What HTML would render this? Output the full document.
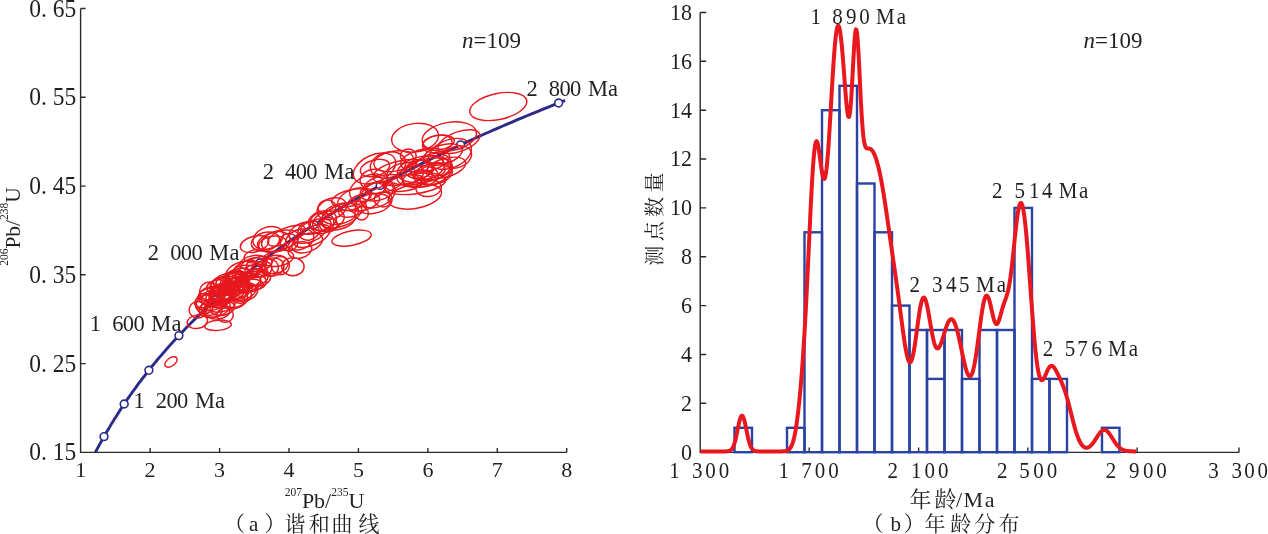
<!DOCTYPE html><html><head><meta charset="utf-8"><title>Figure</title><style>html,body{margin:0;padding:0;background:#fff;}body{width:1268px;height:534px;overflow:hidden;}svg{display:block;}</style></head><body><svg width="1268" height="534" viewBox="0 0 1268 534" font-family='"Liberation Serif", "Noto Serif CJK SC", serif' fill="#231f20"><path d="M95.4,452.4 L96.2,450.8 L97.0,449.2 L97.9,447.6 L98.8,446.0 L99.6,444.5 L100.5,442.9 L101.4,441.3 L102.3,439.7 L103.2,438.1 L104.1,436.5 L105.0,434.8 L105.9,433.2 L106.9,431.6 L107.8,430.0 L108.8,428.4 L109.8,426.8 L110.7,425.1 L111.7,423.5 L112.7,421.9 L113.7,420.3 L114.7,418.6 L115.8,417.0 L116.8,415.4 L117.8,413.7 L118.9,412.1 L120.0,410.4 L121.0,408.8 L122.1,407.1 L123.2,405.5 L124.3,403.8 L125.5,402.2 L126.6,400.5 L127.7,398.8 L128.9,397.2 L130.0,395.5 L131.2,393.8 L132.4,392.1 L133.6,390.5 L134.8,388.8 L136.1,387.1 L137.3,385.4 L138.5,383.7 L139.8,382.0 L141.1,380.4 L142.4,378.7 L143.7,377.0 L145.0,375.3 L146.3,373.6 L147.6,371.9 L149.0,370.1 L150.4,368.4 L151.7,366.7 L153.1,365.0 L154.5,363.3 L155.9,361.6 L157.4,359.8 L158.8,358.1 L160.3,356.4 L161.8,354.7 L163.3,352.9 L164.8,351.2 L166.3,349.4 L167.8,347.7 L169.4,345.9 L170.9,344.2 L172.5,342.4 L174.1,340.7 L175.7,338.9 L177.4,337.2 L179.0,335.4 L180.7,333.7 L182.4,331.9 L184.1,330.1 L185.8,328.3 L187.5,326.6 L189.2,324.8 L191.0,323.0 L192.8,321.2 L194.6,319.4 L196.4,317.6 L198.2,315.9 L200.1,314.1 L202.0,312.3 L203.9,310.5 L205.8,308.7 L207.7,306.8 L209.6,305.0 L211.6,303.2 L213.6,301.4 L215.6,299.6 L217.6,297.8 L219.7,296.0 L221.7,294.1 L223.8,292.3 L225.9,290.5 L228.1,288.6 L230.2,286.8 L232.4,285.0 L234.6,283.1 L236.8,281.3 L239.0,279.4 L241.3,277.6 L243.5,275.7 L245.8,273.9 L248.2,272.0 L250.5,270.1 L252.9,268.3 L255.3,266.4 L257.7,264.5 L260.1,262.6 L262.6,260.8 L265.1,258.9 L267.6,257.0 L270.2,255.1 L272.7,253.2 L275.3,251.3 L277.9,249.4 L280.6,247.5 L283.3,245.6 L285.9,243.7 L288.7,241.8 L291.4,239.9 L294.2,238.0 L297.0,236.1 L299.8,234.2 L302.7,232.2 L305.6,230.3 L308.5,228.4 L311.4,226.5 L314.4,224.5 L317.4,222.6 L320.5,220.7 L323.5,218.7 L326.6,216.8 L329.7,214.8 L332.9,212.9 L336.1,210.9 L339.3,208.9 L342.6,207.0 L345.8,205.0 L349.2,203.1 L352.5,201.1 L355.9,199.1 L359.3,197.1 L362.8,195.2 L366.2,193.2 L369.8,191.2 L373.3,189.2 L376.9,187.2 L380.5,185.2 L384.2,183.2 L387.9,181.2 L391.6,179.2 L395.4,177.2 L399.2,175.2 L403.0,173.2 L406.9,171.2 L410.8,169.1 L414.8,167.1 L418.8,165.1 L422.8,163.1 L426.9,161.0 L431.0,159.0 L435.2,157.0 L439.4,154.9 L443.6,152.9 L447.9,150.8 L452.3,148.8 L456.6,146.7 L461.0,144.7 L465.5,142.6 L470.0,140.5 L474.5,138.5 L479.1,136.4 L483.8,134.3 L488.5,132.2 L493.2,130.2 L498.0,128.1 L502.8,126.0 L507.7,123.9 L512.6,121.8 L517.5,119.7 L522.6,117.6 L527.6,115.5 L532.8,113.4 L537.9,111.3 L543.1,109.2 L548.4,107.1 L553.7,104.9 L559.1,102.8 L564.5,100.7 L565.1,100.5" fill="none" stroke="#2b2a88" stroke-width="2.9" stroke-linecap="butt"/>
<g fill="#fff" stroke="#2b2a88" stroke-width="1.6"><circle cx="104.0" cy="436.6" r="3.9"/><circle cx="124.2" cy="404.0" r="3.9"/><circle cx="148.9" cy="370.3" r="3.9"/><circle cx="178.9" cy="335.6" r="3.9"/><circle cx="215.4" cy="299.8" r="3.9"/><circle cx="259.9" cy="262.8" r="3.9"/><circle cx="314.1" cy="224.7" r="3.9"/><circle cx="380.2" cy="185.4" r="3.9"/><circle cx="460.6" cy="144.9" r="3.9"/><circle cx="558.6" cy="103.0" r="3.9"/></g>
<g fill="none" stroke="#e8181e" stroke-width="1.45"><ellipse cx="197.4" cy="321.7" rx="10.3" ry="6.7" transform="rotate(-10 197.4 321.7)"/><ellipse cx="218.0" cy="325.3" rx="13.4" ry="5.1" transform="rotate(-5 218.0 325.3)"/><ellipse cx="197.8" cy="309.8" rx="8.7" ry="8.2" transform="rotate(0 197.8 309.8)"/><ellipse cx="225.1" cy="315.1" rx="8.2" ry="7.2" transform="rotate(0 225.1 315.1)"/><ellipse cx="204.6" cy="303.5" rx="9.3" ry="10.3" transform="rotate(0 204.6 303.5)"/><ellipse cx="209.4" cy="291.3" rx="9.8" ry="9.3" transform="rotate(0 209.4 291.3)"/><ellipse cx="235.0" cy="301.6" rx="10.0" ry="5.7" transform="rotate(-10 235.0 301.6)"/><ellipse cx="217.4" cy="286.7" rx="10.8" ry="6.7" transform="rotate(-10 217.4 286.7)"/><ellipse cx="265.4" cy="241.6" rx="14.3" ry="9.1" transform="rotate(-15 265.4 241.6)"/><ellipse cx="272.5" cy="244.1" rx="14.0" ry="7.9" transform="rotate(-10 272.5 244.1)"/><ellipse cx="269.3" cy="267.6" rx="9.1" ry="8.5" transform="rotate(0 269.3 267.6)"/><ellipse cx="280.4" cy="265.6" rx="9.1" ry="9.1" transform="rotate(0 280.4 265.6)"/><ellipse cx="278.0" cy="258.3" rx="15.8" ry="7.9" transform="rotate(-10 278.0 258.3)"/><ellipse cx="289.0" cy="242.0" rx="9.0" ry="8.5" transform="rotate(0 289.0 242.0)"/><ellipse cx="254.6" cy="244.1" rx="14.6" ry="7.9" transform="rotate(-15 254.6 244.1)"/><ellipse cx="243.3" cy="271.7" rx="18.0" ry="10.0" transform="rotate(-15 243.3 271.7)"/><ellipse cx="268.1" cy="237.9" rx="15.7" ry="10.7" transform="rotate(-20 268.1 237.9)"/><ellipse cx="276.0" cy="242.0" rx="14.6" ry="10.0" transform="rotate(-15 276.0 242.0)"/><ellipse cx="292.9" cy="266.7" rx="11.2" ry="9.0" transform="rotate(0 292.9 266.7)"/><ellipse cx="274.9" cy="264.4" rx="13.5" ry="9.0" transform="rotate(-10 274.9 264.4)"/><ellipse cx="256.7" cy="256.1" rx="12.7" ry="6.7" transform="rotate(-10 256.7 256.1)"/><ellipse cx="273.0" cy="267.0" rx="11.0" ry="9.0" transform="rotate(-10 273.0 267.0)"/><ellipse cx="239.2" cy="292.3" rx="10.1" ry="6.8" transform="rotate(-14 239.2 292.3)"/><ellipse cx="211.5" cy="306.8" rx="10.7" ry="8.2" transform="rotate(-17 211.5 306.8)"/><ellipse cx="221.7" cy="294.2" rx="10.0" ry="8.4" transform="rotate(-13 221.7 294.2)"/><ellipse cx="222.3" cy="308.2" rx="12.4" ry="7.1" transform="rotate(-10 222.3 308.2)"/><ellipse cx="226.4" cy="292.6" rx="10.0" ry="6.2" transform="rotate(-16 226.4 292.6)"/><ellipse cx="225.5" cy="289.1" rx="13.9" ry="6.4" transform="rotate(-5 225.5 289.1)"/><ellipse cx="239.3" cy="275.3" rx="11.6" ry="6.6" transform="rotate(-18 239.3 275.3)"/><ellipse cx="210.7" cy="299.8" rx="15.0" ry="6.6" transform="rotate(-19 210.7 299.8)"/><ellipse cx="232.8" cy="282.4" rx="10.3" ry="9.2" transform="rotate(-19 232.8 282.4)"/><ellipse cx="209.4" cy="302.6" rx="14.7" ry="8.2" transform="rotate(-4 209.4 302.6)"/><ellipse cx="210.7" cy="309.9" rx="11.5" ry="7.6" transform="rotate(-0 210.7 309.9)"/><ellipse cx="232.7" cy="286.7" rx="13.6" ry="7.7" transform="rotate(-14 232.7 286.7)"/><ellipse cx="236.0" cy="277.0" rx="10.4" ry="7.0" transform="rotate(-4 236.0 277.0)"/><ellipse cx="254.7" cy="278.6" rx="13.5" ry="7.0" transform="rotate(-10 254.7 278.6)"/><ellipse cx="218.0" cy="298.7" rx="12.3" ry="8.9" transform="rotate(-7 218.0 298.7)"/><ellipse cx="257.4" cy="277.6" rx="13.2" ry="8.6" transform="rotate(-3 257.4 277.6)"/><ellipse cx="237.3" cy="289.4" rx="10.8" ry="8.9" transform="rotate(-1 237.3 289.4)"/><ellipse cx="234.4" cy="299.9" rx="13.6" ry="8.6" transform="rotate(-17 234.4 299.9)"/><ellipse cx="247.9" cy="282.4" rx="13.1" ry="8.7" transform="rotate(-7 247.9 282.4)"/><ellipse cx="246.8" cy="269.2" rx="13.4" ry="8.2" transform="rotate(-19 246.8 269.2)"/><ellipse cx="233.5" cy="279.7" rx="13.1" ry="8.1" transform="rotate(-15 233.5 279.7)"/><ellipse cx="224.4" cy="292.8" rx="14.8" ry="8.9" transform="rotate(-12 224.4 292.8)"/><ellipse cx="242.9" cy="291.7" rx="14.8" ry="9.4" transform="rotate(-8 242.9 291.7)"/><ellipse cx="240.7" cy="295.0" rx="10.7" ry="8.2" transform="rotate(-2 240.7 295.0)"/><ellipse cx="227.1" cy="283.1" rx="11.1" ry="7.0" transform="rotate(-1 227.1 283.1)"/><ellipse cx="235.7" cy="282.0" rx="11.6" ry="9.4" transform="rotate(-10 235.7 282.0)"/><ellipse cx="220.6" cy="286.0" rx="10.6" ry="8.2" transform="rotate(-11 220.6 286.0)"/><ellipse cx="221.1" cy="305.8" rx="14.1" ry="6.0" transform="rotate(-9 221.1 305.8)"/><ellipse cx="256.3" cy="271.0" rx="11.3" ry="6.5" transform="rotate(-0 256.3 271.0)"/><ellipse cx="221.1" cy="294.5" rx="12.4" ry="8.3" transform="rotate(-8 221.1 294.5)"/><ellipse cx="253.5" cy="262.7" rx="13.8" ry="7.1" transform="rotate(-9 253.5 262.7)"/><ellipse cx="238.2" cy="285.2" rx="11.8" ry="8.6" transform="rotate(-8 238.2 285.2)"/><ellipse cx="230.8" cy="292.4" rx="13.5" ry="8.2" transform="rotate(-10 230.8 292.4)"/><ellipse cx="239.5" cy="287.3" rx="11.7" ry="6.5" transform="rotate(-8 239.5 287.3)"/><ellipse cx="216.6" cy="308.3" rx="14.0" ry="8.3" transform="rotate(-19 216.6 308.3)"/><ellipse cx="215.8" cy="297.0" rx="14.8" ry="8.5" transform="rotate(-17 215.8 297.0)"/><ellipse cx="210.8" cy="294.7" rx="12.1" ry="6.6" transform="rotate(-8 210.8 294.7)"/><ellipse cx="222.6" cy="294.0" rx="12.4" ry="9.3" transform="rotate(-13 222.6 294.0)"/><ellipse cx="210.9" cy="296.0" rx="12.5" ry="9.2" transform="rotate(-9 210.9 296.0)"/><ellipse cx="244.7" cy="272.1" rx="12.8" ry="6.9" transform="rotate(-5 244.7 272.1)"/><ellipse cx="253.0" cy="266.7" rx="13.6" ry="8.3" transform="rotate(-18 253.0 266.7)"/><ellipse cx="217.2" cy="312.0" rx="12.4" ry="7.1" transform="rotate(-4 217.2 312.0)"/><ellipse cx="259.1" cy="264.1" rx="13.1" ry="7.2" transform="rotate(-15 259.1 264.1)"/><ellipse cx="224.0" cy="294.9" rx="11.7" ry="7.4" transform="rotate(-17 224.0 294.9)"/><ellipse cx="242.7" cy="292.3" rx="13.7" ry="7.4" transform="rotate(-18 242.7 292.3)"/><ellipse cx="230.9" cy="285.3" rx="10.5" ry="6.5" transform="rotate(-17 230.9 285.3)"/><ellipse cx="227.0" cy="280.1" rx="14.4" ry="6.5" transform="rotate(-15 227.0 280.1)"/><ellipse cx="248.5" cy="285.7" rx="14.7" ry="6.4" transform="rotate(-7 248.5 285.7)"/><ellipse cx="221.0" cy="298.8" rx="13.6" ry="6.6" transform="rotate(-16 221.0 298.8)"/><ellipse cx="222.5" cy="285.4" rx="11.4" ry="8.6" transform="rotate(-6 222.5 285.4)"/><ellipse cx="246.5" cy="283.0" rx="14.9" ry="6.0" transform="rotate(-19 246.5 283.0)"/><ellipse cx="256.1" cy="281.7" rx="10.2" ry="7.9" transform="rotate(-0 256.1 281.7)"/><ellipse cx="237.4" cy="277.8" rx="10.5" ry="6.2" transform="rotate(-2 237.4 277.8)"/><ellipse cx="236.6" cy="281.2" rx="12.7" ry="6.3" transform="rotate(-14 236.6 281.2)"/><ellipse cx="261.7" cy="268.9" rx="10.1" ry="7.9" transform="rotate(-10 261.7 268.9)"/><ellipse cx="351.6" cy="238.1" rx="20.0" ry="7.2" transform="rotate(-11 351.6 238.1)"/><ellipse cx="307.2" cy="242.9" rx="16.0" ry="9.0" transform="rotate(-20 307.2 242.9)"/><ellipse cx="308.4" cy="231.1" rx="10.5" ry="9.0" transform="rotate(-10 308.4 231.1)"/><ellipse cx="315.8" cy="226.5" rx="15.7" ry="6.7" transform="rotate(-15 315.8 226.5)"/><ellipse cx="322.0" cy="223.0" rx="12.0" ry="10.5" transform="rotate(-10 322.0 223.0)"/><ellipse cx="327.0" cy="207.6" rx="9.0" ry="7.5" transform="rotate(-10 327.0 207.6)"/><ellipse cx="328.4" cy="224.7" rx="9.0" ry="7.1" transform="rotate(0 328.4 224.7)"/><ellipse cx="328.4" cy="220.6" rx="16.5" ry="9.7" transform="rotate(-20 328.4 220.6)"/><ellipse cx="341.2" cy="215.5" rx="21.7" ry="10.5" transform="rotate(-22 341.2 215.5)"/><ellipse cx="353.6" cy="199.2" rx="17.2" ry="9.7" transform="rotate(-25 353.6 199.2)"/><ellipse cx="368.4" cy="187.8" rx="20.0" ry="12.0" transform="rotate(-25 368.4 187.8)"/><ellipse cx="377.7" cy="194.5" rx="18.7" ry="12.0" transform="rotate(-25 377.7 194.5)"/><ellipse cx="375.0" cy="168.0" rx="15.0" ry="8.0" transform="rotate(-15 375.0 168.0)"/><ellipse cx="300.0" cy="250.0" rx="12.0" ry="8.0" transform="rotate(-15 300.0 250.0)"/><ellipse cx="383.2" cy="199.4" rx="9.0" ry="7.5" transform="rotate(0 383.2 199.4)"/><ellipse cx="373.0" cy="203.7" rx="18.0" ry="9.7" transform="rotate(-10 373.0 203.7)"/><ellipse cx="361.7" cy="213.2" rx="6.7" ry="6.7" transform="rotate(0 361.7 213.2)"/><ellipse cx="286.4" cy="235.7" rx="20.0" ry="7.6" transform="rotate(-23 286.4 235.7)"/><ellipse cx="299.7" cy="239.5" rx="14.6" ry="9.9" transform="rotate(-20 299.7 239.5)"/><ellipse cx="312.0" cy="235.9" rx="19.5" ry="9.1" transform="rotate(-24 312.0 235.9)"/><ellipse cx="322.4" cy="220.6" rx="14.3" ry="9.5" transform="rotate(-16 322.4 220.6)"/><ellipse cx="339.1" cy="220.0" rx="17.0" ry="9.1" transform="rotate(-16 339.1 220.0)"/><ellipse cx="340.5" cy="213.7" rx="18.5" ry="9.9" transform="rotate(-15 340.5 213.7)"/><ellipse cx="352.5" cy="209.2" rx="14.3" ry="7.1" transform="rotate(-17 352.5 209.2)"/><ellipse cx="363.4" cy="202.1" rx="16.6" ry="8.2" transform="rotate(-15 363.4 202.1)"/><ellipse cx="278.3" cy="240.7" rx="21.3" ry="9.7" transform="rotate(-14 278.3 240.7)"/><ellipse cx="307.2" cy="232.2" rx="18.6" ry="10.3" transform="rotate(-14 307.2 232.2)"/><ellipse cx="331.8" cy="208.6" rx="15.2" ry="10.2" transform="rotate(-20 331.8 208.6)"/><ellipse cx="351.6" cy="197.9" rx="20.3" ry="8.1" transform="rotate(-12 351.6 197.9)"/><ellipse cx="383.4" cy="183.9" rx="19.9" ry="8.4" transform="rotate(-14 383.4 183.9)"/><ellipse cx="415.1" cy="137.7" rx="23.6" ry="14.2" transform="rotate(-8 415.1 137.7)"/><ellipse cx="449.3" cy="136.6" rx="27.5" ry="14.2" transform="rotate(-10 449.3 136.6)"/><ellipse cx="438.7" cy="142.6" rx="15.7" ry="7.3" transform="rotate(-8 438.7 142.6)"/><ellipse cx="449.9" cy="153.9" rx="22.5" ry="14.0" transform="rotate(-22 449.9 153.9)"/><ellipse cx="425.2" cy="160.2" rx="24.7" ry="11.2" transform="rotate(-10 425.2 160.2)"/><ellipse cx="402.7" cy="172.5" rx="30.0" ry="12.0" transform="rotate(-10 402.7 172.5)"/><ellipse cx="424.0" cy="169.2" rx="27.0" ry="13.0" transform="rotate(-10 424.0 169.2)"/><ellipse cx="408.3" cy="155.7" rx="7.9" ry="6.7" transform="rotate(0 408.3 155.7)"/><ellipse cx="414.9" cy="196.4" rx="27.0" ry="12.0" transform="rotate(-10 414.9 196.4)"/><ellipse cx="373.5" cy="179.3" rx="13.5" ry="10.0" transform="rotate(-10 373.5 179.3)"/><ellipse cx="376.9" cy="191.6" rx="16.9" ry="9.0" transform="rotate(-10 376.9 191.6)"/><ellipse cx="433.0" cy="166.9" rx="19.0" ry="13.0" transform="rotate(-15 433.0 166.9)"/><ellipse cx="415.0" cy="183.8" rx="31.0" ry="10.0" transform="rotate(-8 415.0 183.8)"/><ellipse cx="436.4" cy="169.2" rx="9.0" ry="6.7" transform="rotate(0 436.4 169.2)"/><ellipse cx="393.7" cy="161.3" rx="20.0" ry="10.0" transform="rotate(-10 393.7 161.3)"/><ellipse cx="419.6" cy="169.2" rx="14.6" ry="9.0" transform="rotate(-10 419.6 169.2)"/><ellipse cx="459.0" cy="141.6" rx="22.0" ry="9.8" transform="rotate(-20 459.0 141.6)"/><ellipse cx="457.0" cy="157.0" rx="15.0" ry="10.5" transform="rotate(-20 457.0 157.0)"/><ellipse cx="437.3" cy="143.9" rx="15.0" ry="8.5" transform="rotate(-10 437.3 143.9)"/><ellipse cx="433.0" cy="174.0" rx="19.5" ry="10.5" transform="rotate(-10 433.0 174.0)"/><ellipse cx="428.6" cy="188.0" rx="12.7" ry="8.5" transform="rotate(-5 428.6 188.0)"/><ellipse cx="374.5" cy="168.5" rx="22.5" ry="13.5" transform="rotate(-25 374.5 168.5)"/><ellipse cx="427.2" cy="172.4" rx="26.0" ry="13.5" transform="rotate(-15 427.2 172.4)"/><ellipse cx="388.0" cy="165.0" rx="18.0" ry="12.7" transform="rotate(-15 388.0 165.0)"/><ellipse cx="417.5" cy="178.1" rx="15.1" ry="7.4" transform="rotate(-15 417.5 178.1)"/><ellipse cx="443.0" cy="154.5" rx="19.9" ry="9.6" transform="rotate(-16 443.0 154.5)"/><ellipse cx="427.5" cy="167.7" rx="17.3" ry="11.0" transform="rotate(-17 427.5 167.7)"/><ellipse cx="405.2" cy="173.7" rx="18.4" ry="10.8" transform="rotate(-7 405.2 173.7)"/><ellipse cx="405.3" cy="183.1" rx="19.8" ry="7.8" transform="rotate(-10 405.3 183.1)"/><ellipse cx="417.7" cy="176.5" rx="20.7" ry="10.8" transform="rotate(-5 417.7 176.5)"/><ellipse cx="433.7" cy="172.0" rx="19.4" ry="7.4" transform="rotate(-15 433.7 172.0)"/><ellipse cx="446.0" cy="167.6" rx="20.3" ry="9.2" transform="rotate(-16 446.0 167.6)"/><ellipse cx="498.3" cy="106.5" rx="29.0" ry="13.0" transform="rotate(-12 498.3 106.5)"/><ellipse cx="171.0" cy="362.0" rx="7.0" ry="4.0" transform="rotate(-35 171.0 362.0)"/></g>
<path d="M80.6,8.5 V452.4 H566.7 M80.6,8.5 h5 M80.6,97.3 h5 M80.6,186.1 h5 M80.6,274.8 h5 M80.6,363.6 h5 M150.1,452.4 v-4.5 M219.6,452.4 v-4.5 M289.0,452.4 v-4.5 M358.4,452.4 v-4.5 M427.9,452.4 v-4.5 M497.3,452.4 v-4.5 M566.7,452.4 v-4.5" fill="none" stroke="#2b2b2b" stroke-width="1.4"/>
<text transform="translate(76.3 16.5) scale(1 1.056)" x="0" y="0" font-size="23.5" text-anchor="end" xml:space="preserve">0. 65</text>
<text transform="translate(76.3 105.3) scale(1 1.056)" x="0" y="0" font-size="23.5" text-anchor="end" xml:space="preserve">0. 55</text>
<text transform="translate(76.3 194.1) scale(1 1.056)" x="0" y="0" font-size="23.5" text-anchor="end" xml:space="preserve">0. 45</text>
<text transform="translate(76.3 282.8) scale(1 1.056)" x="0" y="0" font-size="23.5" text-anchor="end" xml:space="preserve">0. 35</text>
<text transform="translate(76.3 371.6) scale(1 1.056)" x="0" y="0" font-size="23.5" text-anchor="end" xml:space="preserve">0. 25</text>
<text transform="translate(76.3 460.4) scale(1 1.056)" x="0" y="0" font-size="23.5" text-anchor="end" xml:space="preserve">0. 15</text>
<text x="80.7" y="477.3" font-size="22" text-anchor="middle">1</text>
<text x="150.1" y="477.3" font-size="22" text-anchor="middle">2</text>
<text x="219.6" y="477.3" font-size="22" text-anchor="middle">3</text>
<text x="289.0" y="477.3" font-size="22" text-anchor="middle">4</text>
<text x="358.4" y="477.3" font-size="22" text-anchor="middle">5</text>
<text x="427.9" y="477.3" font-size="22" text-anchor="middle">6</text>
<text x="497.3" y="477.3" font-size="22" text-anchor="middle">7</text>
<text x="566.7" y="477.3" font-size="22" text-anchor="middle">8</text>
<text x="324.5" y="507.8" font-size="22" text-anchor="middle"><tspan font-size="11.5" dy="-11.5">207</tspan><tspan dy="11.5">Pb/</tspan><tspan font-size="11.5" dy="-11.5">235</tspan><tspan dy="11.5">U</tspan></text>
<text transform="translate(19.8 226.5) rotate(-90)" font-size="21.5" text-anchor="middle"><tspan font-size="11.5" dy="-11.5">206</tspan><tspan dy="11.5">Pb/</tspan><tspan font-size="11.5" dy="-11.5">238</tspan><tspan dy="11.5">U</tspan></text>
<text x="224.0 249.1 264.5 284.4 308.7 331.4 358.4" y="531.3" font-size="21" font-family='"Liberation Serif", "Noto Serif CJK SC", serif'>（a）谐和曲线</text>
<text x="462" y="48.4" font-size="23"><tspan font-style="italic">n</tspan>=109</text>
<text x="526.4 537.7 548.8 559.4 570.0 581.3 587.9 608.1" y="95.6" font-size="22.5" xml:space="preserve">2 800 Ma</text>
<text x="262.7 274.0 285.1 295.7 306.3 317.6 324.2 344.4" y="178.7" font-size="22.5" xml:space="preserve">2 400 Ma</text>
<text x="147.8 159.1 170.2 180.8 191.4 202.7 209.3 229.5" y="259.6" font-size="22.5" xml:space="preserve">2 000 Ma</text>
<text x="89.8 101.1 112.2 122.8 133.4 144.7 151.3 171.5" y="331.3" font-size="22.5" xml:space="preserve">1 600 Ma</text>
<text x="133.4 144.7 155.8 166.4 177.0 188.3 194.9 215.1" y="407.9" font-size="22.5" xml:space="preserve">1 200 Ma</text>
<path d="M700.2,12.5 V452.4 H1239 M700.2,403.3 h6 M700.2,354.5 h6 M700.2,305.6 h6 M700.2,256.8 h6 M700.2,207.9 h6 M700.2,159.0 h6 M700.2,110.2 h6 M700.2,61.3 h6 M700.2,12.5 h6 M809.2,452.4 v-5 M918.6,452.4 v-5 M1027.8,452.4 v-5 M1137.1,452.4 v-5 M1239.0,452.4 v-5" fill="none" stroke="#2b2b2b" stroke-width="1.4"/>
<g fill="none" stroke="#2a42a2" stroke-width="2.4"><rect x="734.5" y="427.8" width="17.5" height="24.4"/><rect x="787.0" y="427.8" width="17.5" height="24.4"/><rect x="804.5" y="232.3" width="17.5" height="219.9"/><rect x="822.0" y="110.2" width="17.5" height="342.0"/><rect x="839.5" y="85.8" width="17.5" height="366.4"/><rect x="857.0" y="183.5" width="17.5" height="268.7"/><rect x="874.5" y="232.3" width="17.5" height="219.9"/><rect x="892.0" y="305.6" width="17.5" height="146.6"/><rect x="909.5" y="330.0" width="17.5" height="122.2"/><rect x="927.0" y="330.0" width="17.5" height="122.2"/><rect x="944.5" y="330.0" width="17.5" height="122.2"/><rect x="962.0" y="378.9" width="17.5" height="73.3"/><rect x="979.5" y="330.0" width="17.5" height="122.2"/><rect x="997.0" y="330.0" width="17.5" height="122.2"/><rect x="1014.5" y="207.9" width="17.5" height="244.3"/><rect x="1032.0" y="378.9" width="17.5" height="73.3"/><rect x="1049.5" y="378.9" width="17.5" height="73.3"/><rect x="1102.0" y="427.8" width="17.5" height="24.4"/><path d="M927.0,378.9 h17.5"/></g>
<path d="M700.5,451.4 L701.0,451.4 L701.5,451.4 L702.0,451.4 L702.5,451.4 L703.0,451.4 L703.5,451.4 L704.0,451.4 L704.5,451.4 L705.0,451.4 L705.5,451.4 L706.0,451.4 L706.5,451.4 L707.0,451.4 L707.5,451.4 L708.0,451.4 L708.5,451.4 L709.0,451.4 L709.5,451.4 L710.0,451.4 L710.5,451.4 L711.0,451.4 L711.5,451.4 L712.0,451.4 L712.5,451.4 L713.0,451.4 L713.5,451.4 L714.0,451.4 L714.5,451.4 L715.0,451.4 L715.5,451.4 L716.0,451.4 L716.5,451.4 L717.0,451.4 L717.5,451.4 L718.0,451.4 L718.5,451.4 L719.0,451.4 L719.5,451.4 L720.0,451.4 L720.5,451.4 L721.0,451.4 L721.5,451.4 L722.0,451.4 L722.5,451.4 L723.0,451.4 L723.5,451.4 L724.0,451.4 L724.5,451.4 L725.0,451.4 L725.5,451.4 L726.0,451.4 L726.5,451.3 L727.0,451.3 L727.5,451.3 L728.0,451.2 L728.5,451.1 L729.0,451.0 L729.5,450.8 L730.0,450.6 L730.5,450.3 L731.0,449.9 L731.5,449.4 L732.0,448.8 L732.5,448.0 L733.0,447.1 L733.5,446.0 L734.0,444.7 L734.5,443.2 L735.0,441.5 L735.5,439.6 L736.0,437.5 L736.5,435.2 L737.0,432.8 L737.5,430.3 L738.0,427.9 L738.5,425.4 L739.0,423.1 L739.5,421.0 L740.0,419.2 L740.5,417.7 L741.0,416.5 L741.5,415.9 L742.0,415.6 L742.5,415.9 L743.0,416.5 L743.5,417.7 L744.0,419.2 L744.5,421.0 L745.0,423.1 L745.5,425.4 L746.0,427.9 L746.5,430.3 L747.0,432.8 L747.5,435.2 L748.0,437.5 L748.5,439.6 L749.0,441.5 L749.5,443.2 L750.0,444.7 L750.5,446.0 L751.0,447.1 L751.5,448.0 L752.0,448.8 L752.5,449.4 L753.0,449.9 L753.5,450.3 L754.0,450.6 L754.5,450.8 L755.0,451.0 L755.5,451.1 L756.0,451.2 L756.5,451.3 L757.0,451.3 L757.5,451.3 L758.0,451.4 L758.5,451.4 L759.0,451.4 L759.5,451.4 L760.0,451.4 L760.5,451.4 L761.0,451.4 L761.5,451.4 L762.0,451.4 L762.5,451.4 L763.0,451.4 L763.5,451.4 L764.0,451.4 L764.5,451.4 L765.0,451.4 L765.5,451.4 L766.0,451.4 L766.5,451.4 L767.0,451.4 L767.5,451.4 L768.0,451.4 L768.5,451.4 L769.0,451.4 L769.5,451.4 L770.0,451.4 L770.5,451.4 L771.0,451.4 L771.5,451.4 L772.0,451.4 L772.5,451.4 L773.0,451.4 L773.5,451.4 L774.0,451.4 L774.5,451.4 L775.0,451.4 L775.5,451.4 L776.0,451.4 L776.5,451.4 L777.0,451.4 L777.5,451.4 L778.0,451.4 L778.5,451.4 L779.0,451.4 L779.5,451.4 L780.0,451.4 L780.5,451.4 L781.0,451.4 L781.5,451.4 L782.0,451.4 L782.5,451.3 L783.0,451.3 L783.5,451.3 L784.0,451.3 L784.5,451.2 L785.0,451.2 L785.5,451.1 L786.0,451.0 L786.5,450.8 L787.0,450.7 L787.5,450.5 L788.0,450.2 L788.5,449.9 L789.0,449.5 L789.5,449.0 L790.0,448.4 L790.5,447.7 L791.0,446.8 L791.5,445.9 L792.0,444.7 L792.5,443.4 L793.0,441.9 L793.5,440.1 L794.0,438.2 L794.5,435.9 L795.0,433.5 L795.5,430.8 L796.0,427.8 L796.5,424.5 L797.0,421.0 L797.5,417.2 L798.0,413.1 L798.5,408.8 L799.0,404.1 L799.5,399.2 L800.0,394.0 L800.5,388.5 L801.0,382.7 L801.5,376.6 L802.0,370.2 L802.5,363.4 L803.0,356.3 L803.5,348.9 L804.0,341.0 L804.5,332.8 L805.0,324.2 L805.5,315.2 L806.0,305.8 L806.5,296.1 L807.0,286.0 L807.5,275.6 L808.0,265.0 L808.5,254.3 L809.0,243.5 L809.5,232.7 L810.0,222.0 L810.5,211.5 L811.0,201.4 L811.5,191.8 L812.0,182.8 L812.5,174.4 L813.0,166.9 L813.5,160.2 L814.0,154.4 L814.5,149.7 L815.0,146.0 L815.5,143.4 L816.0,141.8 L816.5,141.2 L817.0,141.6 L817.5,142.8 L818.0,144.8 L818.5,147.4 L819.0,150.6 L819.5,154.1 L820.0,157.9 L820.5,161.7 L821.0,165.5 L821.5,169.0 L822.0,172.2 L822.5,174.9 L823.0,177.0 L823.5,178.4 L824.0,179.0 L824.5,178.8 L825.0,177.7 L825.5,175.7 L826.0,172.8 L826.5,169.0 L827.0,164.3 L827.5,158.8 L828.0,152.6 L828.5,145.7 L829.0,138.2 L829.5,130.3 L830.0,122.0 L830.5,113.5 L831.0,104.8 L831.5,96.2 L832.0,87.6 L832.5,79.2 L833.0,71.2 L833.5,63.5 L834.0,56.4 L834.5,49.9 L835.0,44.0 L835.5,38.9 L836.0,34.5 L836.5,31.0 L837.0,28.4 L837.5,26.6 L838.0,25.7 L838.5,25.7 L839.0,26.6 L839.5,28.3 L840.0,30.8 L840.5,34.1 L841.0,38.0 L841.5,42.7 L842.0,47.9 L842.5,53.6 L843.0,59.7 L843.5,66.1 L844.0,72.7 L844.5,79.4 L845.0,86.0 L845.5,92.4 L846.0,98.5 L846.5,104.0 L847.0,108.8 L847.5,112.7 L848.0,115.4 L848.5,116.9 L849.0,117.0 L849.5,115.5 L850.0,112.4 L850.5,107.8 L851.0,101.6 L851.5,94.1 L852.0,85.5 L852.5,76.2 L853.0,66.6 L853.5,57.3 L854.0,48.6 L854.5,41.0 L855.0,35.1 L855.5,31.1 L856.0,29.4 L856.5,30.0 L857.0,32.8 L857.5,37.9 L858.0,44.8 L858.5,53.2 L859.0,62.7 L859.5,72.9 L860.0,83.4 L860.5,93.6 L861.0,103.3 L861.5,112.2 L862.0,120.1 L862.5,126.9 L863.0,132.6 L863.5,137.2 L864.0,140.9 L864.5,143.6 L865.0,145.5 L865.5,146.9 L866.0,147.7 L866.5,148.2 L867.0,148.5 L867.5,148.6 L868.0,148.6 L868.5,148.6 L869.0,148.6 L869.5,148.6 L870.0,148.8 L870.5,149.0 L871.0,149.3 L871.5,149.7 L872.0,150.3 L872.5,151.0 L873.0,151.7 L873.5,152.6 L874.0,153.6 L874.5,154.7 L875.0,155.9 L875.5,157.2 L876.0,158.6 L876.5,160.2 L877.0,161.8 L877.5,163.6 L878.0,165.5 L878.5,167.4 L879.0,169.5 L879.5,171.7 L880.0,174.1 L880.5,176.5 L881.0,179.0 L881.5,181.7 L882.0,184.4 L882.5,187.3 L883.0,190.2 L883.5,193.2 L884.0,196.4 L884.5,199.6 L885.0,202.8 L885.5,206.1 L886.0,209.5 L886.5,212.9 L887.0,216.4 L887.5,219.8 L888.0,223.3 L888.5,226.8 L889.0,230.3 L889.5,233.9 L890.0,237.4 L890.5,240.9 L891.0,244.4 L891.5,247.8 L892.0,251.3 L892.5,254.8 L893.0,258.2 L893.5,261.7 L894.0,265.2 L894.5,268.6 L895.0,272.1 L895.5,275.6 L896.0,279.1 L896.5,282.7 L897.0,286.3 L897.5,289.9 L898.0,293.6 L898.5,297.3 L899.0,301.0 L899.5,304.8 L900.0,308.5 L900.5,312.4 L901.0,316.2 L901.5,320.0 L902.0,323.8 L902.5,327.5 L903.0,331.2 L903.5,334.8 L904.0,338.3 L904.5,341.7 L905.0,344.9 L905.5,347.9 L906.0,350.7 L906.5,353.2 L907.0,355.5 L907.5,357.5 L908.0,359.2 L908.5,360.5 L909.0,361.5 L909.5,362.1 L910.0,362.3 L910.5,362.1 L911.0,361.5 L911.5,360.5 L912.0,359.1 L912.5,357.4 L913.0,355.3 L913.5,352.9 L914.0,350.2 L914.5,347.2 L915.0,343.9 L915.5,340.5 L916.0,336.9 L916.5,333.3 L917.0,329.5 L917.5,325.8 L918.0,322.1 L918.5,318.6 L919.0,315.1 L919.5,311.9 L920.0,308.9 L920.5,306.2 L921.0,303.8 L921.5,301.8 L922.0,300.1 L922.5,298.9 L923.0,298.0 L923.5,297.6 L924.0,297.5 L924.5,297.9 L925.0,298.6 L925.5,299.8 L926.0,301.3 L926.5,303.1 L927.0,305.2 L927.5,307.5 L928.0,310.1 L928.5,312.8 L929.0,315.6 L929.5,318.6 L930.0,321.5 L930.5,324.5 L931.0,327.4 L931.5,330.3 L932.0,333.0 L932.5,335.5 L933.0,337.9 L933.5,340.1 L934.0,342.1 L934.5,343.8 L935.0,345.2 L935.5,346.4 L936.0,347.3 L936.5,348.0 L937.0,348.4 L937.5,348.5 L938.0,348.4 L938.5,348.1 L939.0,347.5 L939.5,346.7 L940.0,345.8 L940.5,344.7 L941.0,343.4 L941.5,342.0 L942.0,340.6 L942.5,339.0 L943.0,337.4 L943.5,335.8 L944.0,334.1 L944.5,332.5 L945.0,330.9 L945.5,329.3 L946.0,327.8 L946.5,326.4 L947.0,325.1 L947.5,323.8 L948.0,322.7 L948.5,321.8 L949.0,320.9 L949.5,320.3 L950.0,319.8 L950.5,319.4 L951.0,319.2 L951.5,319.2 L952.0,319.3 L952.5,319.7 L953.0,320.2 L953.5,320.8 L954.0,321.7 L954.5,322.7 L955.0,323.8 L955.5,325.2 L956.0,326.6 L956.5,328.2 L957.0,330.0 L957.5,331.8 L958.0,333.8 L958.5,335.9 L959.0,338.0 L959.5,340.3 L960.0,342.6 L960.5,344.9 L961.0,347.3 L961.5,349.7 L962.0,352.1 L962.5,354.5 L963.0,356.8 L963.5,359.1 L964.0,361.3 L964.5,363.5 L965.0,365.5 L965.5,367.4 L966.0,369.2 L966.5,370.8 L967.0,372.2 L967.5,373.5 L968.0,374.5 L968.5,375.3 L969.0,375.9 L969.5,376.2 L970.0,376.3 L970.5,376.1 L971.0,375.6 L971.5,374.8 L972.0,373.8 L972.5,372.4 L973.0,370.8 L973.5,368.8 L974.0,366.6 L974.5,364.2 L975.0,361.4 L975.5,358.5 L976.0,355.3 L976.5,352.0 L977.0,348.5 L977.5,344.8 L978.0,341.1 L978.5,337.2 L979.0,333.4 L979.5,329.5 L980.0,325.7 L980.5,322.0 L981.0,318.3 L981.5,314.9 L982.0,311.6 L982.5,308.6 L983.0,305.8 L983.5,303.3 L984.0,301.1 L984.5,299.2 L985.0,297.8 L985.5,296.7 L986.0,295.9 L986.5,295.6 L987.0,295.7 L987.5,296.1 L988.0,296.8 L988.5,297.9 L989.0,299.3 L989.5,301.0 L990.0,302.9 L990.5,305.0 L991.0,307.1 L991.5,309.4 L992.0,311.7 L992.5,313.9 L993.0,316.0 L993.5,318.0 L994.0,319.8 L994.5,321.3 L995.0,322.5 L995.5,323.4 L996.0,323.9 L996.5,324.1 L997.0,324.0 L997.5,323.5 L998.0,322.7 L998.5,321.6 L999.0,320.3 L999.5,318.7 L1000.0,317.0 L1000.5,315.3 L1001.0,313.4 L1001.5,311.6 L1002.0,309.8 L1002.5,308.1 L1003.0,306.4 L1003.5,304.8 L1004.0,303.3 L1004.5,301.9 L1005.0,300.5 L1005.5,299.2 L1006.0,297.8 L1006.5,296.3 L1007.0,294.7 L1007.5,293.0 L1008.0,291.0 L1008.5,288.8 L1009.0,286.3 L1009.5,283.5 L1010.0,280.4 L1010.5,277.0 L1011.0,273.3 L1011.5,269.2 L1012.0,265.0 L1012.5,260.5 L1013.0,255.8 L1013.5,251.0 L1014.0,246.1 L1014.5,241.2 L1015.0,236.4 L1015.5,231.7 L1016.0,227.2 L1016.5,222.9 L1017.0,219.0 L1017.5,215.3 L1018.0,212.1 L1018.5,209.3 L1019.0,206.9 L1019.5,205.1 L1020.0,203.8 L1020.5,203.1 L1021.0,202.9 L1021.5,203.3 L1022.0,204.3 L1022.5,205.8 L1023.0,207.9 L1023.5,210.6 L1024.0,213.8 L1024.5,217.5 L1025.0,221.7 L1025.5,226.3 L1026.0,231.3 L1026.5,236.8 L1027.0,242.5 L1027.5,248.6 L1028.0,254.9 L1028.5,261.5 L1029.0,268.2 L1029.5,275.0 L1030.0,282.0 L1030.5,288.9 L1031.0,295.8 L1031.5,302.7 L1032.0,309.4 L1032.5,316.0 L1033.0,322.5 L1033.5,328.7 L1034.0,334.6 L1034.5,340.3 L1035.0,345.6 L1035.5,350.6 L1036.0,355.2 L1036.5,359.5 L1037.0,363.3 L1037.5,366.8 L1038.0,369.8 L1038.5,372.5 L1039.0,374.7 L1039.5,376.5 L1040.0,377.9 L1040.5,379.0 L1041.0,379.7 L1041.5,380.1 L1042.0,380.2 L1042.5,380.0 L1043.0,379.6 L1043.5,378.9 L1044.0,378.1 L1044.5,377.1 L1045.0,376.1 L1045.5,374.9 L1046.0,373.8 L1046.5,372.6 L1047.0,371.5 L1047.5,370.4 L1048.0,369.4 L1048.5,368.5 L1049.0,367.7 L1049.5,367.0 L1050.0,366.5 L1050.5,366.1 L1051.0,365.9 L1051.5,365.9 L1052.0,365.9 L1052.5,366.1 L1053.0,366.5 L1053.5,366.9 L1054.0,367.5 L1054.5,368.2 L1055.0,368.9 L1055.5,369.8 L1056.0,370.6 L1056.5,371.6 L1057.0,372.5 L1057.5,373.5 L1058.0,374.6 L1058.5,375.6 L1059.0,376.7 L1059.5,377.7 L1060.0,378.8 L1060.5,379.9 L1061.0,381.0 L1061.5,382.2 L1062.0,383.3 L1062.5,384.6 L1063.0,385.8 L1063.5,387.1 L1064.0,388.4 L1064.5,389.8 L1065.0,391.3 L1065.5,392.8 L1066.0,394.4 L1066.5,396.0 L1067.0,397.8 L1067.5,399.5 L1068.0,401.3 L1068.5,403.2 L1069.0,405.1 L1069.5,407.1 L1070.0,409.0 L1070.5,411.0 L1071.0,413.0 L1071.5,415.0 L1072.0,417.0 L1072.5,419.0 L1073.0,421.0 L1073.5,422.9 L1074.0,424.8 L1074.5,426.6 L1075.0,428.4 L1075.5,430.1 L1076.0,431.8 L1076.5,433.3 L1077.0,434.8 L1077.5,436.2 L1078.0,437.6 L1078.5,438.8 L1079.0,440.0 L1079.5,441.0 L1080.0,442.0 L1080.5,442.9 L1081.0,443.7 L1081.5,444.5 L1082.0,445.1 L1082.5,445.7 L1083.0,446.2 L1083.5,446.6 L1084.0,447.0 L1084.5,447.3 L1085.0,447.5 L1085.5,447.7 L1086.0,447.7 L1086.5,447.8 L1087.0,447.7 L1087.5,447.6 L1088.0,447.5 L1088.5,447.3 L1089.0,447.0 L1089.5,446.7 L1090.0,446.3 L1090.5,445.9 L1091.0,445.4 L1091.5,444.9 L1092.0,444.4 L1092.5,443.8 L1093.0,443.1 L1093.5,442.4 L1094.0,441.7 L1094.5,441.0 L1095.0,440.2 L1095.5,439.4 L1096.0,438.7 L1096.5,437.9 L1097.0,437.1 L1097.5,436.3 L1098.0,435.5 L1098.5,434.8 L1099.0,434.1 L1099.5,433.4 L1100.0,432.7 L1100.5,432.2 L1101.0,431.6 L1101.5,431.2 L1102.0,430.8 L1102.5,430.4 L1103.0,430.2 L1103.5,430.0 L1104.0,429.9 L1104.5,429.9 L1105.0,430.0 L1105.5,430.1 L1106.0,430.4 L1106.5,430.7 L1107.0,431.0 L1107.5,431.5 L1108.0,432.0 L1108.5,432.6 L1109.0,433.2 L1109.5,433.9 L1110.0,434.6 L1110.5,435.3 L1111.0,436.1 L1111.5,436.9 L1112.0,437.7 L1112.5,438.5 L1113.0,439.3 L1113.5,440.1 L1114.0,440.8 L1114.5,441.6 L1115.0,442.4 L1115.5,443.1 L1116.0,443.8 L1116.5,444.4 L1117.0,445.1 L1117.5,445.7 L1118.0,446.2 L1118.5,446.7 L1119.0,447.2 L1119.5,447.7 L1120.0,448.1 L1120.5,448.5 L1121.0,448.8 L1121.5,449.1 L1122.0,449.4 L1122.5,449.7 L1123.0,449.9 L1123.5,450.1 L1124.0,450.3 L1124.5,450.4 L1125.0,450.6 L1125.5,450.7 L1126.0,450.8 L1126.5,450.9 L1127.0,451.0 L1127.5,451.0 L1128.0,451.1 L1128.5,451.1 L1129.0,451.2 L1129.5,451.2 L1130.0,451.3 L1130.5,451.3 L1131.0,451.3 L1131.5,451.3 L1132.0,451.3 L1132.5,451.3 L1133.0,451.4 L1133.5,451.4 L1134.0,451.4 L1134.5,451.4 L1135.0,451.4 L1135.5,451.4 L1136.0,451.4" fill="none" stroke="#e8181e" stroke-width="4" stroke-linejoin="round" stroke-linecap="butt"/>
<text transform="translate(692 459.6) scale(1 1.04)" x="0" y="0" font-size="22" text-anchor="end">0</text>
<text transform="translate(692 410.7) scale(1 1.04)" x="0" y="0" font-size="22" text-anchor="end">2</text>
<text transform="translate(692 361.9) scale(1 1.04)" x="0" y="0" font-size="22" text-anchor="end">4</text>
<text transform="translate(692 313.0) scale(1 1.04)" x="0" y="0" font-size="22" text-anchor="end">6</text>
<text transform="translate(692 264.2) scale(1 1.04)" x="0" y="0" font-size="22" text-anchor="end">8</text>
<text transform="translate(692 215.3) scale(1 1.04)" x="0" y="0" font-size="22" text-anchor="end">10</text>
<text transform="translate(692 166.4) scale(1 1.04)" x="0" y="0" font-size="22" text-anchor="end">12</text>
<text transform="translate(692 117.6) scale(1 1.04)" x="0" y="0" font-size="22" text-anchor="end">14</text>
<text transform="translate(692 68.7) scale(1 1.04)" x="0" y="0" font-size="22" text-anchor="end">16</text>
<text transform="translate(692 19.9) scale(1 1.04)" x="0" y="0" font-size="22" text-anchor="end">18</text>
<text transform="translate(0 478.3) scale(1 1.085)" x="669.3 679.8 691.9 705.3 718.8" y="0" font-size="21" xml:space="preserve">1 300</text>
<text transform="translate(0 478.3) scale(1 1.085)" x="778.6 789.1 801.3 814.7 828.2" y="0" font-size="21" xml:space="preserve">1 700</text>
<text transform="translate(0 478.3) scale(1 1.085)" x="887.6 898.1 910.9 924.6 938.1" y="0" font-size="21" xml:space="preserve">2 100</text>
<text transform="translate(0 478.3) scale(1 1.085)" x="996.9 1007.4 1019.3 1033.2 1046.7" y="0" font-size="21" xml:space="preserve">2 500</text>
<text transform="translate(0 478.3) scale(1 1.085)" x="1105.7 1116.2 1129.1 1142.9 1156.2" y="0" font-size="21" xml:space="preserve">2 900</text>
<text transform="translate(0 478.3) scale(1 1.085)" x="1208.3 1218.8 1231.5 1244.3 1257.5" y="0" font-size="21" xml:space="preserve">3 300</text>
<text x="1083.5" y="48.4" font-size="23"><tspan font-style="italic">n</tspan>=109</text>
<text transform="translate(0 23.7) scale(1 1.085)" x="810.5 821.0 832.3 846.1 859.3 869.8 876.1 896.8" y="0" font-size="21" xml:space="preserve">1 890 Ma</text>
<text transform="translate(0 198.2) scale(1 1.085)" x="992.1 1002.6 1014.6 1029.1 1041.9 1052.4 1058.7 1078.9" y="0" font-size="21" xml:space="preserve">2 514 Ma</text>
<text transform="translate(0 292.2) scale(1 1.085)" x="909.5 920.0 932.1 946.0 958.9 969.4 976.1 996.8" y="0" font-size="21" xml:space="preserve">2 345 Ma</text>
<text transform="translate(0 355.8) scale(1 1.085)" x="1042.8 1053.3 1064.8 1077.3 1091.6 1102.1 1107.9 1128.7" y="0" font-size="21" xml:space="preserve">2 576 Ma</text>
<text transform="translate(661.5 219.2) rotate(-90)" x="-46.5 -22.1 2.3 26.8" y="0" font-size="20" font-family='"Liberation Serif", "Noto Serif CJK SC", serif'>测点数量</text>
<text x="909.4 934.6 955.9 963.6 984.7" y="506.6" font-size="22" font-family='"Liberation Serif", "Noto Serif CJK SC", serif'>年龄/Ma</text>
<text x="862.6 890.5 903.8 924.5 950.2 974.3 998.4" y="531.3" font-size="21" font-family='"Liberation Serif", "Noto Serif CJK SC", serif'>（b）年龄分布</text></svg></body></html>
